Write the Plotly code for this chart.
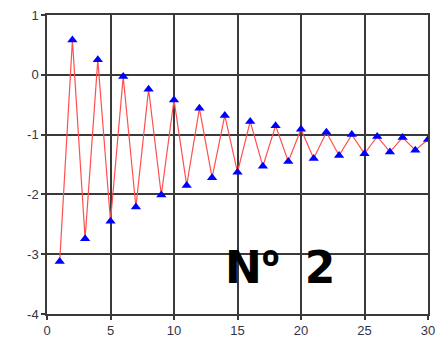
import plotly.graph_objects as go

# Sample index and measured response
x_vals = list(range(1, 31))
y_vals = [-3.12, 0.58, -2.74, 0.25, -2.45, -0.03, -2.21, -0.24, -2.01, -0.42,
          -1.85, -0.56, -1.72, -0.68, -1.63, -0.78, -1.53, -0.85, -1.45, -0.91,
          -1.40, -0.96, -1.35, -1.00, -1.32, -1.03, -1.29, -1.05, -1.26, -1.08]

x_ticks = [0, 5, 10, 15, 20, 25, 30]
y_ticks = [1, 0, -1, -2, -3, -4]
y_tick_text = ["1", "0", "-1", "-2", "-3", "-4"]

grid_color = "#3a3a3a"

fig = go.Figure()
fig.add_trace(go.Scatter(
    x=x_vals, y=y_vals, mode="lines+markers",
    line=dict(color="#ff5050", width=1.2),
    marker=dict(symbol="triangle-up", size=9, color="#0000ff"),
    showlegend=False,
))

# "Nº 2" label; the ordinal sign is set in Open Sans (no underline bar),
# and the gap before the digit is widened
fig.add_annotation(
    x=18.35, y=-3.2, xref="x", yref="y", yshift=8,
    text=("N<span style='font-family:Open Sans;font-size:46px'>º</span>"
          "<span style='font-size:72px'> </span>2"),
    showarrow=False,
    font=dict(family="DejaVu Sans", size=44, color="black", weight="bold"),
)

axis_common = dict(
    showgrid=True, gridcolor=grid_color, gridwidth=1.5,
    showline=True, linecolor=grid_color, linewidth=1.5, mirror=True,
    ticks="outside", ticklen=4, tickcolor=grid_color, tickwidth=1.5,
    zeroline=False, automargin=False,
    tickfont=dict(family="Liberation Sans", size=13, color="#333344"),
)

fig.update_xaxes(range=[0, 30], tickvals=x_ticks, **axis_common)
fig.update_yaxes(range=[-4, 1], tickvals=y_ticks, ticktext=y_tick_text, **axis_common)

fig.update_layout(
    width=437, height=343,
    margin=dict(l=47, r=9, t=15, b=29),
    paper_bgcolor="white", plot_bgcolor="white",
)

fig.write_html("out.html")
